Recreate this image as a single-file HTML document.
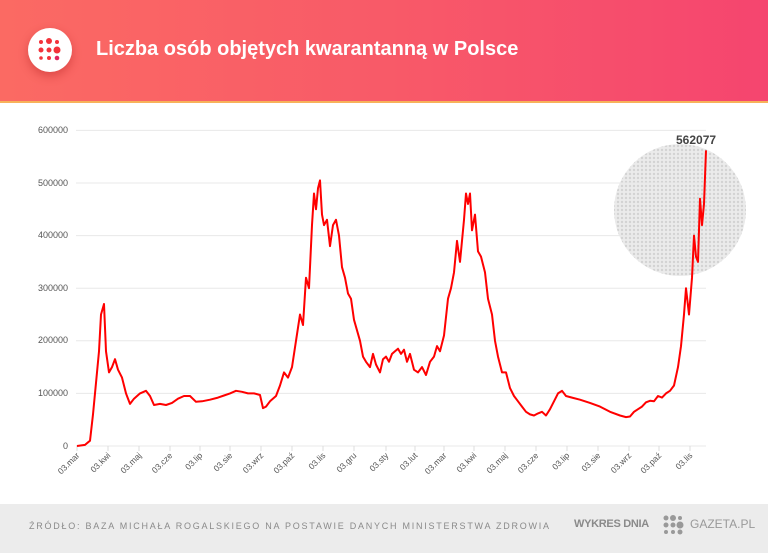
<!DOCTYPE html>
<html><head><meta charset="utf-8"><style>
body{margin:0;width:768px;height:553px;overflow:hidden;font-family:"Liberation Sans",sans-serif;background:#fff;position:relative}
.hdr{position:absolute;left:0;top:0;width:768px;height:101px;background:linear-gradient(90deg,#fb6a63 0%,#f85a68 50%,#f5456f 100%);border-bottom:2px solid #f7b25a}
.title{position:absolute;left:96px;top:38px;color:#fff;font-weight:bold;font-size:20px}
.ic{position:absolute;left:28px;top:28px;width:44px;height:44px;border-radius:50%;background:#fff;box-shadow:0 4px 10px rgba(150,0,0,.3)}
.ftr{position:absolute;left:0;top:504px;width:768px;height:49px;background:#ececec}
.src{position:absolute;left:29px;top:521px;font-size:9px;letter-spacing:1.75px;color:#8a8a8a;white-space:nowrap}
.wd{position:absolute;left:574px;top:518px;font-size:11px;font-weight:bold;color:#8a8a8a;letter-spacing:-.3px}
.gz{position:absolute;left:690px;top:517px;font-size:12px;color:#999}
</style></head><body>
<div class="hdr"></div>
<div class="ic"><svg width="44" height="44"><g fill="#f3323a"><circle cx="13" cy="14" r="2"/><circle cx="21" cy="13" r="3"/><circle cx="29" cy="14" r="2"/><circle cx="13" cy="22" r="2.5"/><circle cx="21" cy="22" r="2.5"/><circle cx="29" cy="22" r="3.5"/><circle cx="13" cy="30" r="1.8"/><circle cx="21" cy="30" r="2"/><circle cx="29" cy="30" r="2.3" fill="#e0245e"/></g></svg></div>
<div class="title">Liczba osób objętych kwarantanną w Polsce</div>
<svg width="768" height="553" style="position:absolute;left:0;top:0">
<defs><pattern id="dt" width="4" height="4" patternUnits="userSpaceOnUse"><rect width="4" height="4" fill="#e6e6e6"/><circle cx="2" cy="2" r="1.2" fill="#c8c8c8"/></pattern></defs>
<circle cx="680" cy="210" r="66" fill="url(#dt)" opacity=".8"/>
<g stroke="#e8e8e8" stroke-width="1">
<line x1="76" y1="130.4" x2="706" y2="130.4"/><line x1="76" y1="183" x2="706" y2="183"/><line x1="76" y1="235.6" x2="706" y2="235.6"/><line x1="76" y1="288.2" x2="706" y2="288.2"/><line x1="76" y1="340.8" x2="706" y2="340.8"/><line x1="76" y1="393.4" x2="706" y2="393.4"/><line x1="76" y1="446" x2="706" y2="446"/>
</g>
<g font-size="9" fill="#555" text-anchor="end">
<text x="68" y="133">600000</text><text x="68" y="186">500000</text><text x="68" y="238">400000</text><text x="68" y="291">300000</text><text x="68" y="343">200000</text><text x="68" y="396">100000</text><text x="68" y="449">0</text>
</g>
<g stroke="#ddd"><path d="M77 446v5M108 446v5M139 446v5M170 446v5M200 446v5M230 446v5M261 446v5M292 446v5M323 446v5M354 446v5M386 446v5M415 446v5M444 446v5M474 446v5M505 446v5M536 446v5M567 446v5M598 446v5M629 446v5M659 446v5M690 446v5"/></g>
<g font-size="8.5" fill="#555" text-anchor="end">
<text transform="translate(80,456) rotate(-45)">03.mar</text><text transform="translate(111,456) rotate(-45)">03.kwi</text><text transform="translate(142,456) rotate(-45)">03.maj</text><text transform="translate(173,456) rotate(-45)">03.cze</text><text transform="translate(203,456) rotate(-45)">03.lip</text><text transform="translate(233,456) rotate(-45)">03.sie</text><text transform="translate(264,456) rotate(-45)">03.wrz</text><text transform="translate(295,456) rotate(-45)">03.paź</text><text transform="translate(326,456) rotate(-45)">03.lis</text><text transform="translate(357,456) rotate(-45)">03.gru</text><text transform="translate(389,456) rotate(-45)">03.sty</text><text transform="translate(418,456) rotate(-45)">03.lut</text><text transform="translate(447,456) rotate(-45)">03.mar</text><text transform="translate(477,456) rotate(-45)">03.kwi</text><text transform="translate(508,456) rotate(-45)">03.maj</text><text transform="translate(539,456) rotate(-45)">03.cze</text><text transform="translate(570,456) rotate(-45)">03.lip</text><text transform="translate(601,456) rotate(-45)">03.sie</text><text transform="translate(632,456) rotate(-45)">03.wrz</text><text transform="translate(662,456) rotate(-45)">03.paź</text><text transform="translate(693,456) rotate(-45)">03.lis</text>
</g>
<polyline id="p" fill="none" stroke="#f00" stroke-width="2" stroke-linejoin="round" points=""/>
<text x="676" y="144" font-size="12" font-weight="bold" fill="#444">562077</text>
</svg>
<div class="ftr"></div>
<div class="src">ŹRÓDŁO: BAZA MICHAŁA ROGALSKIEGO NA POSTAWIE DANYCH MINISTERSTWA ZDROWIA</div>
<div class="wd">WYKRES DNIA</div>
<svg width="24" height="22" style="position:absolute;left:662px;top:514px"><g fill="#999"><circle cx="4" cy="4" r="2.5"/><circle cx="11" cy="4" r="3"/><circle cx="18" cy="4" r="2"/><circle cx="4" cy="11" r="2.5"/><circle cx="11" cy="11" r="2.5"/><circle cx="18" cy="11" r="3.5"/><circle cx="4" cy="18" r="2"/><circle cx="11" cy="18" r="2"/><circle cx="18" cy="18" r="2.5"/></g></svg>
<div class="gz">GAZETA.PL</div>
<script>
var d=[77,0,85,2,90,10,93,60,96,120,99,180,101,250,104,270,106,180,109,140,112,150,115,165,118,145,122,130,126,100,130,80,134,90,140,100,146,105,150,95,154,78,160,80,166,78,172,82,178,90,184,95,190,95,196,84,202,85,210,88,218,92,224,96,230,100,236,105,242,103,248,100,254,100,260,97,263,72,266,75,270,85,276,95,280,115,284,140,288,130,292,150,296,200,300,250,303,230,306,320,309,300,312,420,314,480,316,450,318,490,320,505,322,440,324,420,327,430,330,380,333,420,336,430,339,400,342,340,345,320,348,290,351,280,354,240,357,220,360,200,363,170,366,160,370,150,373,175,376,155,380,140,383,165,386,170,389,160,392,175,395,180,398,185,401,175,404,183,407,160,410,175,414,145,418,140,422,150,426,135,430,160,434,170,437,190,440,180,444,210,448,280,451,300,454,330,457,390,460,350,464,430,466,480,468,460,470,480,472,410,475,440,478,370,481,360,485,330,488,280,492,250,495,200,498,170,502,140,506,140,510,110,514,95,518,85,522,75,526,65,530,60,534,58,538,62,542,65,546,58,550,70,554,85,558,100,562,105,566,95,572,92,580,88,590,82,600,75,610,65,620,58,626,55,630,56,634,65,638,70,642,75,646,83,650,86,654,85,658,95,662,92,666,100,670,105,674,115,678,150,681,190,684,250,686,300,689,250,692,320,694,400,696,360,698,350,700,470,702,420,704,460,706,562];
var s=[];for(var i=0;i<d.length;i+=2)s.push(d[i]+","+(446-d[i+1]*0.526).toFixed(1));
document.getElementById("p").setAttribute("points",s.join(" "));
</script>
</body></html>
